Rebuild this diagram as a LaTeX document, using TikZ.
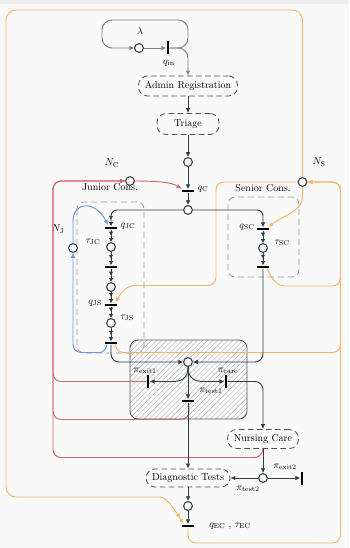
\documentclass[tikz,border=0pt]{standalone}
\usetikzlibrary{arrows.meta,patterns.meta}
\definecolor{bgc}{RGB}{249,249,249}
\definecolor{band}{RGB}{238,238,238}
\definecolor{dk}{RGB}{50,62,68}
\definecolor{gl}{RGB}{128,128,128}
\definecolor{rd}{RGB}{210,104,104}
\definecolor{og}{RGB}{240,182,104}
\definecolor{bl}{RGB}{108,148,228}
\definecolor{bx}{RGB}{150,150,150}
\begin{document}
\begin{tikzpicture}[x=1pt,y=-1pt,
  every node/.style={font=\fontsize{10}{12}\selectfont},
  place/.style={circle,draw=dk,line width=0.9pt,fill=bgc,minimum size=8.6pt,inner sep=0pt},
  hbar/.style={rectangle,fill=black,minimum width=12pt,minimum height=2.8pt,inner sep=0pt},
  vbar/.style={rectangle,fill=black,minimum width=2.8pt,minimum height=13pt,inner sep=0pt},
  task/.style={rectangle,rounded corners=9pt,draw=dk!90,dash pattern=on 5.5pt off 3.5pt,line width=0.8pt,fill=bgc,inner sep=3pt,minimum height=20pt},
  grpbox/.style={draw=bx,dash pattern=on 6pt off 4pt,line width=0.8pt,rounded corners=7pt},
  ar/.style={-{Latex[length=5pt,width=4.6pt]}},
  ar2/.style={-{Latex[length=4.2pt,width=4.6pt,sep=2.2pt]Latex[length=4.2pt,width=4.6pt]}},
  dkl/.style={draw=dk,line width=0.9pt},
  lw/.style={line width=0.95pt},
  lbl/.style={inner sep=0pt}
]
\useasboundingbox (0,0) rectangle (349,548);
\fill[bgc] (0,0) rectangle (349,548);
\fill[band] (0,0) rectangle (349,4);

% group boxes
\draw[grpbox] (77,202) rectangle (144,353);
\draw[grpbox] (228,197) rectangle (299,277);
\node[lbl] (jlab) at (110,187) {Junior Cons.};
\node[lbl] (slab) at (263,188) {Senior Cons.};

% hatched box
\draw[dk!85,line width=0.8pt,rounded corners=8pt,pattern={Lines[angle=45,distance=3.6pt,line width=0.4pt]},pattern color=gray!60] (130,340) rectangle (247,419);

% nodes
\node[place] (lam) at (139,48) {};
\node[lbl] (laml) at (140,31) {$\lambda$};
\node[vbar] (qin) at (168,48) {};
\node[lbl] (qinl) at (169,63) {$q_{\mathrm{in}}$};
\node[task,minimum width=99pt] (adm) at (188,86) {Admin Registration};
\node[task,minimum width=62pt,minimum height=21pt] (tri) at (188,124) {Triage};
\node[place] (p1) at (188,162) {};
\node[hbar] (qC) at (188,191) {};
\node[lbl] (qCl) at (203,189) {$q_{\mathrm{C}}$};
\node[place] (pC) at (188,210) {};
\node[place] (NCp) at (130,181) {};
\node[lbl] (NCl) at (112,163) {$N_{\mathrm{C}}$};
\node[place] (NSp) at (302.5,182) {};
\node[lbl] (NSl) at (319,162) {$N_{\mathrm{S}}$};
\node[place] (NJp) at (73,248) {};
\node[lbl] (NJl) at (58,229) {$N_{\mathrm{J}}$};

% junior column
\node[hbar] (qJC) at (111,228) {};
\node[lbl] (qJCl) at (128,226) {$q_{\mathrm{JC}}$};
\node[place] (tJC) at (111,247) {};
\node[lbl] (tJCl) at (93,242) {$\tau_{\mathrm{JC}}$};
\node[hbar] (b2) at (111,267) {};
\node[place] (p2) at (111,287) {};
\node[hbar] (qJS) at (111,305) {};
\node[lbl] (qJSl) at (95,303) {$q_{\mathrm{JS}}$};
\node[place] (tJS) at (111,323) {};
\node[lbl] (tJSl) at (127,318) {$\tau_{\mathrm{JS}}$};
\node[hbar] (bJ) at (111,343) {};

% senior column
\node[hbar] (qSC) at (263,229) {};
\node[lbl] (qSCl) at (247,227) {$q_{\mathrm{SC}}$};
\node[place] (tSC) at (263,248) {};
\node[lbl] (tSCl) at (282,243) {$\tau_{\mathrm{SC}}$};
\node[hbar] (bS) at (263,267) {};

% central routing
\node[place] (pc2) at (188,362) {};
\node[vbar] (ex1) at (148,381.5) {};
\node[lbl] (ex1l) at (145,371) {$\pi_{\mathrm{exit1}}$};
\node[hbar] (t1) at (188,401) {};
\node[lbl] (t1l) at (211,391) {$\pi_{\mathrm{test1}}$};
\node[vbar] (care) at (226,381.5) {};
\node[lbl] (carel) at (228,371) {$\pi_{\mathrm{care}}$};

\node[task,minimum width=71pt,minimum height=19pt] (nurse) at (263,439) {Nursing Care};
\node[place] (ex2p) at (263,478) {};
\node[lbl] (ex2l) at (285,467) {$\pi_{\mathrm{exit2}}$};
\node[vbar] (ex2b) at (302,478) {};
\node[task,minimum width=84pt,minimum height=18pt] (diag) at (188,478) {Diagnostic Tests};
\node[lbl] (t2l) at (248,489) {$\pi_{\mathrm{test2}}$};
\node[place] (pEC) at (188,506) {};
\node[hbar] (qEC) at (188,526) {};
\node[lbl] (qECl) at (230,526) {$q_{\mathrm{EC}}$ , $\tau_{\mathrm{EC}}$};

% gray arrival loop
\draw[gl,lw,ar] (lam) -- (qin);
\draw[gl,lw,rounded corners=10pt,ar] (qin.east) -- (188,48) -- (188,20) -- (102,20) -- (102,48) -- (lam.west);
\draw[gl,lw,rounded corners=10pt,ar] (qin.east) -- (188,48) -- (adm.north);

% red (consultant) paths
\draw[rd,lw,ar] (NCp.east) .. controls (155,181) and (172,182) .. (181.5,189);
\draw[rd,lw,rounded corners=8pt,ar] (ex1.west) -- (53,381.5) -- (53,181) -- (NCp.west);
\draw[rd,lw,rounded corners=8pt,ar] (189,402.4) -- (189,419.5) -- (53,419.5) -- (53,181) -- (NCp.west);
\draw[rd,lw,rounded corners=8pt,ar] (263,448.5) .. controls (263,455) and (257,457.5) .. (247,457.5) -- (53,457.5) -- (53,181) -- (NCp.west);

% orange (senior) paths
\draw[og,lw,rounded corners=10pt,ar2] (NSp.north) -- (302.5,10) -- (6,10) -- (6,497) -- (150,497) .. controls (165,497) and (173,506) .. (183,523.5);
\draw[og,lw,ar] (NSp.south) -- (302.5,196) .. controls (302.5,212) and (285,214) .. (268.5,227);
\draw[og,lw,rounded corners=8pt,ar] (NSp.west) -- (216,182) -- (216,285.5) -- (142,285.5) .. controls (128,285.5) and (121,292) .. (116,302.5);
\draw[og,lw,rounded corners=8pt,ar] (267,268.5) .. controls (272,280) and (278,286) .. (292,286) -- (340.5,286) -- (340.5,182) -- (NSp.east);
\draw[og,lw,rounded corners=8pt,ar] (115,344.5) .. controls (117,352.5) and (122,352.5) .. (132,352.5) -- (340.5,352.5) -- (340.5,182) -- (NSp.east);
\draw[og,lw,rounded corners=8pt,ar] (qEC.south) -- (188,543) -- (340.5,543) -- (340.5,182) -- (NSp.east);

% blue (junior) paths
\draw[bl,lw,rounded corners=8pt,ar] (107,344.5) .. controls (105,352.5) and (100,352.5) .. (92,352.5) -- (73,352.5) -- (NJp.south);
\draw[bl,lw,ar] (NJp.north) -- (73,222) .. controls (73,200) and (96,201) .. (108,225);

% dark flow
\draw[dkl,ar] (adm) -- (tri);
\draw[dkl,ar] (tri) -- (p1);
\draw[dkl,ar] (p1) -- (qC);
\draw[dkl,ar] (qC) -- (pC);
\draw[dkl,ar2,rounded corners=6pt] (pC.west) -| (qJC.north);
\draw[dkl,ar,rounded corners=6pt] (pC.east) -| (qSC.north);
\draw[dkl,ar2] (qJC) -- (tJC);
\draw[dkl,ar2] (tJC) -- (b2);
\draw[dkl,ar2] (b2) -- (p2);
\draw[dkl,ar2] (p2) -- (qJS);
\draw[dkl,ar2] (qJS) -- (tJS);
\draw[dkl,ar2] (tJS) -- (bJ);
\draw[dkl,ar2] (qSC) -- (tSC);
\draw[dkl,ar2] (tSC) -- (bS);
\draw[dkl,ar,rounded corners=8pt] (bJ.south) -- (111,362) -- (pc2.west);
\draw[dkl,ar,rounded corners=8pt] (bS.south) -- (263,362) -- (pc2.east);
\draw[dkl,ar] (pc2.south) .. controls (188,378) and (182,381.5) .. (172,381.5) -- (ex1.east);
\draw[dkl,ar] (pc2.south) .. controls (188,378) and (194,381.5) .. (204,381.5) -- (care.west);
\draw[dkl,ar] (pc2) -- (t1);
\draw[dkl,ar,rounded corners=8pt] (care.east) -- (263,381.5) -- (nurse.north);
\draw[dkl,ar] (t1) -- (diag.north);
\draw[dkl,ar] (nurse) -- (ex2p);
\draw[dkl,ar] (ex2p) -- (ex2b);
\draw[dkl,ar] (ex2p) -- (diag.east);
\draw[dkl,ar] (diag) -- (pEC);
\draw[dkl,ar] (pEC) -- (qEC);

% redraw places on top
\foreach \n in {lam,p1,pC,NCp,NSp,NJp,tJC,p2,tJS,tSC,pc2,ex2p,pEC}{
  \draw[dk,line width=0.9pt,fill=bgc] (\n) circle (4.3pt);
}
\end{tikzpicture}
\end{document}
